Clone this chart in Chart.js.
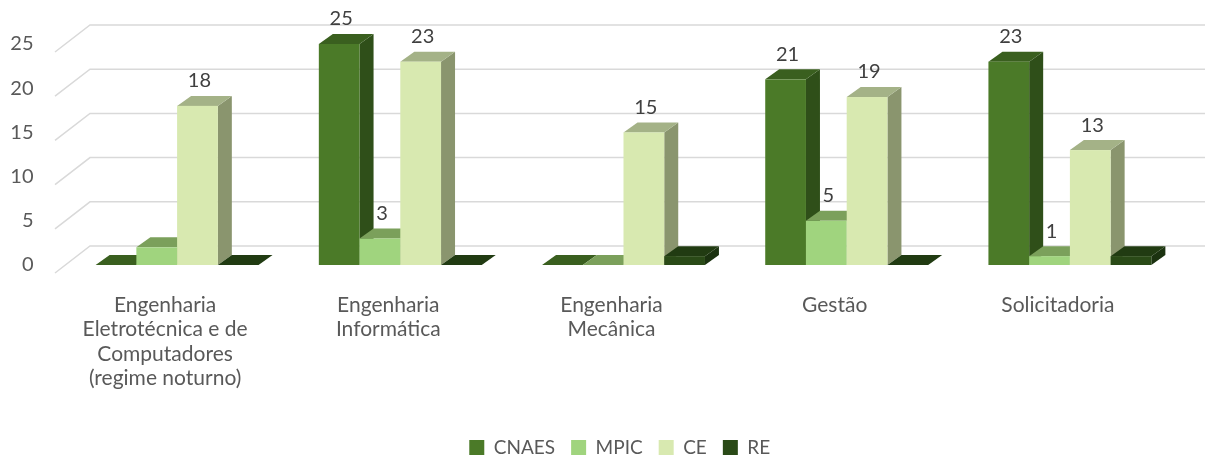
<!DOCTYPE html>
<html>
<head>
<meta charset="utf-8">
<script src="https://cdn.jsdelivr.net/npm/chart.js@4.4.0/dist/chart.umd.min.js"></script>
<style>
  html, body { margin: 0; padding: 0; background: #fff; }
  #wrap { width: 1208px; height: 459px; }
</style>
</head>
<body>
<div id="wrap"><canvas id="chart"></canvas></div>
<script>
const categories = [
    ["Engenharia", "Eletrotécnica e de", "Computadores", "(regime noturno)"],
    ["Engenharia", "Informática"],
    ["Engenharia", "Mecânica"],
    "Gestão",
    "Solicitadoria"
];
const cnaes = [0, 25, 0, 21, 23];
const mpic  = [2, 3, 0, 5, 1];
const ce    = [18, 23, 15, 19, 13];
const re    = [0, 0, 1, 0, 1];
const yTicks = [0, 5, 10, 15, 20, 25];
// data labels that are not shown in the original ("dataset-category")
const hiddenLabels = ["1-0", "3-2", "3-4"];

const FONT = "Lato, 'Open Sans', sans-serif";
const DX = 14, DY = 10; // bar depth

const bars3d = {
    id: "bars3d",
    afterLayout(chart) {
        // legend sits a bit right of centre in the original
        chart.legend.left += 29;
        chart.legend.right += 29;
    },
    beforeDatasetsDraw(chart) {
        const ctx = chart.ctx;
        const area = chart.chartArea;
        const yScale = chart.scales.y;

        // back wall gridlines with the slanted floor edge
        ctx.save();
        ctx.strokeStyle = "#d9d9d9";
        ctx.lineWidth = 1.5;
        yTicks.forEach(v => {
            const yv = yScale.getPixelForValue(v);
            ctx.beginPath();
            ctx.moveTo(area.left - 10.5, yv + 8);
            ctx.lineTo(area.left + 24.5, yv - 19);
            ctx.lineTo(chart.width - 3, yv - 19);
            ctx.stroke();
        });

        // bars: side, top, front, category by category
        const n = chart.data.labels.length;
        for (let c = 0; c < n; c++) {
            chart.data.datasets.forEach((ds, d) => {
                const bar = chart.getDatasetMeta(d).data[c];
                const p = bar.getProps(["x", "y", "base", "width"], true);
                const l = p.x - p.width / 2, r = p.x + p.width / 2;

                ctx.fillStyle = ds.sideColor;
                ctx.beginPath();
                ctx.moveTo(r, p.y);
                ctx.lineTo(r + DX, p.y - DY);
                ctx.lineTo(r + DX, p.base - DY);
                ctx.lineTo(r, p.base);
                ctx.closePath();
                ctx.fill();

                ctx.fillStyle = ds.topColor;
                ctx.beginPath();
                ctx.moveTo(l, p.y);
                ctx.lineTo(l + DX, p.y - DY);
                ctx.lineTo(r + DX, p.y - DY);
                ctx.lineTo(r, p.y);
                ctx.closePath();
                ctx.fill();

                ctx.fillStyle = ds.backgroundColor;
                ctx.fillRect(l, p.y, p.width, p.base - p.y);
            });
        }
        ctx.restore();
        return false;
    },
    afterDraw(chart) {
        const ctx = chart.ctx;
        ctx.save();
        ctx.fillStyle = "#404040";
        ctx.font = "20px " + FONT;
        ctx.textAlign = "center";
        ctx.textBaseline = "middle";
        chart.data.datasets.forEach((ds, d) => {
            chart.getDatasetMeta(d).data.forEach((bar, c) => {
                const v = ds.data[c];
                if (!v || hiddenLabels.includes(d + "-" + c)) return;
                ctx.fillText(String(v), bar.x + 2, bar.y - 25);
            });
        });
        ctx.restore();
    }
};

new Chart(document.getElementById("chart"), {
    type: "bar",
    data: {
        labels: categories,
        datasets: [
            { label: "CNAES", data: cnaes, backgroundColor: "#4b7a28", sideColor: "#2f4f19", topColor: "#3a5f1f" },
            { label: "MPIC", data: mpic, backgroundColor: "#a0d47e", sideColor: "#6e9a52", topColor: "#7ba05b" },
            { label: "CE", data: ce, backgroundColor: "#d8e9b0", sideColor: "#8a956e", topColor: "#a4b287" },
            { label: "RE", data: re, backgroundColor: "#2a4a17", sideColor: "#1b3210", topColor: "#213b12" }
        ]
    },
    options: {
        responsive: true,
        maintainAspectRatio: false,
        animation: false,
        categoryPercentage: 0.73,
        barPercentage: 1,
        layout: { padding: { top: 44, right: 26.5, left: 0, bottom: -8 } },
        plugins: {
            tooltip: { enabled: false },
            legend: {
                position: "bottom",
                labels: {
                    boxWidth: 15,
                    boxHeight: 15,
                    padding: 16,
                    color: "#595959",
                    font: { family: FONT, size: 19 }
                }
            }
        },
        scales: {
            x: {
                afterFit(scale) { scale.height = 157; },
                grid: { display: false, drawTicks: false },
                border: { display: false },
                ticks: {
                    color: "#595959",
                    font: { family: FONT, size: 21, lineHeight: "24.4px" },
                    padding: 28,
                    labelOffset: -12,
                    maxRotation: 0,
                    autoSkip: false
                }
            },
            y: {
                min: 0,
                max: 25,
                afterFit(scale) { scale.width = 65.5; },
                grid: { display: false, drawTicks: false },
                border: { display: false },
                ticks: {
                    stepSize: 5,
                    padding: 32,
                    color: "#595959",
                    font: { family: FONT, size: 20 }
                }
            }
        }
    },
    plugins: [bars3d]
});
</script>
</body>
</html>
